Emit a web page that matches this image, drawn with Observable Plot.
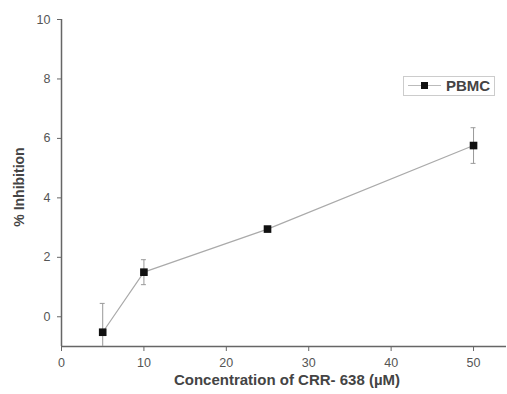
<!DOCTYPE html>
<html><head><meta charset="utf-8">
<script src="https://cdn.jsdelivr.net/npm/d3@7"></script>
<script src="https://cdn.jsdelivr.net/npm/@observablehq/plot@0.6"></script>
<style>
body{margin:0;background:#fff;font-family:"Liberation Sans",Arial,sans-serif;}
#wrap{position:relative;width:507px;height:394px;}
#legend{position:absolute;left:403px;top:76px;width:92px;height:20px;border:1px solid #ccc;box-sizing:border-box;background:#fff;}
#legend .ln{position:absolute;left:4px;top:8px;width:33px;height:0;border-top:1px solid #bbb;}
#legend .mk{position:absolute;left:17px;top:5px;width:7px;height:7px;background:#111;}
#legend .tx{position:absolute;left:42px;top:0px;font-size:15px;font-weight:bold;color:#444;}
</style></head>
<body><div id="wrap"><div id="legend"><div class="ln"></div><div class="mk"></div><div class="tx">PBMC</div></div></div>
<script>
const concentrations = [5, 10, 25, 50];
const inhibition = [-0.52, 1.5, 2.95, 5.76];
const errors = [0.97, 0.42, 0.05, 0.6];
const xTicks = [0, 10, 20, 30, 40, 50];
const yTicks = [0, 2, 4, 6, 8, 10];
const seriesName = "PBMC";

const data = concentrations.map((c, i) => ({x: c, y: inhibition[i], lo: inhibition[i] - errors[i], hi: inhibition[i] + errors[i], s: seriesName}));
const capHalf = 0.3;

const chart = Plot.plot({
  width: 507, height: 394,
  marginLeft: 61, marginTop: 19, marginBottom: 48, marginRight: 1,
  style: {fontFamily: "'Liberation Sans', Arial, sans-serif", fontSize: "12px", color: "#555", background: "transparent"},
  x: {type: "linear", domain: [0, 54], label: null},
  y: {type: "linear", domain: [-1, 10], label: null},
  marks: [
    Plot.ruleY([-1], {stroke: "#666", strokeWidth: 1.5}),
    Plot.ruleX([0], {stroke: "#666", strokeWidth: 1.5}),
    Plot.axisX(xTicks, {tickSize: 5, tickPadding: 7, stroke: "#666", fill: "#555", fontSize: 12.5}),
    Plot.axisY(yTicks, {tickSize: 4, tickPadding: 7, stroke: "#666", fill: "#555", fontSize: 12.5}),
    Plot.link(data, {x1: "x", x2: "x", y1: "lo", y2: "hi", stroke: "#999", strokeWidth: 1, clip: true}),
    Plot.ruleY(data, {y: "hi", x1: d => d.x - capHalf, x2: d => d.x + capHalf, stroke: "#999", strokeWidth: 1}),
    Plot.ruleY(data.filter(d => d.lo >= -1), {y: "lo", x1: d => d.x - capHalf, x2: d => d.x + capHalf, stroke: "#999", strokeWidth: 1}),
    Plot.line(data, {x: "x", y: "y", stroke: "#aaa", strokeWidth: 1.2}),
    Plot.dot(data, {x: "x", y: "y", symbol: "square", r: 4.3, fill: "#111", stroke: "none"}),
    Plot.text(["Concentration of CRR- 638 (\u00b5M)"], {frameAnchor: "bottom", dy: 38, dx: 3, fontSize: 15, fontWeight: "bold", fill: "#444"}),
    Plot.text(["% Inhibition"], {frameAnchor: "left", textAnchor: "middle", dx: -42, dy: 4, rotate: -90, fontSize: 14, fontWeight: "bold", fill: "#444"})
  ]
});
document.getElementById("wrap").prepend(chart);
chart.style.position = "absolute"; chart.style.left = "0"; chart.style.top = "0";
</script></body></html>
